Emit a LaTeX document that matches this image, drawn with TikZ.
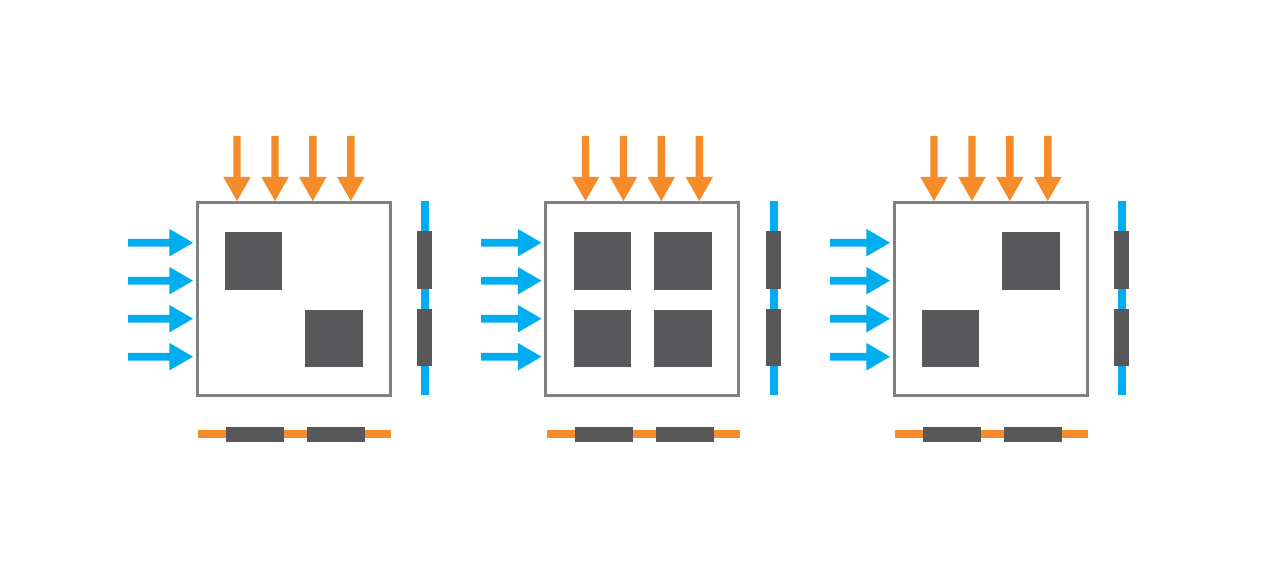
\documentclass[tikz,border=0pt]{standalone}
\definecolor{orng}{HTML}{F68B29}
\definecolor{blu}{HTML}{00AEEF}
\definecolor{dgray}{HTML}{58585A}
\definecolor{bgray}{HTML}{808080}
\tikzset{
  chip/.style={fill=dgray, draw=none},
  frame/.style={draw=bgray, line width=2.7pt, fill=white},
  oarrow/.style={fill=orng, draw=none},
  barrow/.style={fill=blu, draw=none},
}
\begin{document}
\begin{tikzpicture}[x=1pt,y=-1pt]
\useasboundingbox (0,0) rectangle (1284,588);
\fill[white] (0,0) rectangle (1284,588);
\foreach \o/\bs in {0/128,348.5/132.5,697/133}{
  \begin{scope}[xshift=\o pt]
    % frame
    \draw[frame] (197.3,202.3) rectangle (390.3,395.7);
    % orange arrows from top
    \foreach \cx in {237,275,312.8,350.8}{
      \fill[oarrow] (\cx-3.7,136) -- (\cx+3.7,136) -- (\cx+3.7,177) -- (\cx+13.7,177)
        -- (\cx,201) -- (\cx-13.7,177) -- (\cx-3.7,177) -- cycle;
    }
    % blue arrows from left
    \foreach \cy in {242.7,280.7,318.7,356.7}{
      \fill[barrow] (\bs,\cy-3.8) -- (169.3,\cy-3.8) -- (169.3,\cy-13.8) -- (193,\cy)
        -- (169.3,\cy+13.8) -- (169.3,\cy+3.8) -- (\bs,\cy+3.8) -- cycle;
    }
    % right blue bar
    \fill[blu] (421,201) rectangle (429,395);
    \fill[chip] (417,231) rectangle (432,289);
    \fill[chip] (417,309) rectangle (432,366);
    % bottom orange bar
    \fill[orng] (198,430.2) rectangle (391,437.8);
    \fill[chip] (226,427) rectangle (284,442);
    \fill[chip] (307,427) rectangle (365,442);
  \end{scope}
}
% panel 1 chips
\fill[chip] (225,232) rectangle (282,290);
\fill[chip] (305,310) rectangle (363,367);
% panel 2 chips
\begin{scope}[xshift=348.5pt]
  \fill[chip] (225,232) rectangle (282,290);
  \fill[chip] (305,232) rectangle (363,290);
  \fill[chip] (225,310) rectangle (282,367);
  \fill[chip] (305,310) rectangle (363,367);
\end{scope}
% panel 3 chips
\begin{scope}[xshift=697pt]
  \fill[chip] (225,310) rectangle (282,367);
  \fill[chip] (305,232) rectangle (363,290);
\end{scope}
\end{tikzpicture}
\end{document}
